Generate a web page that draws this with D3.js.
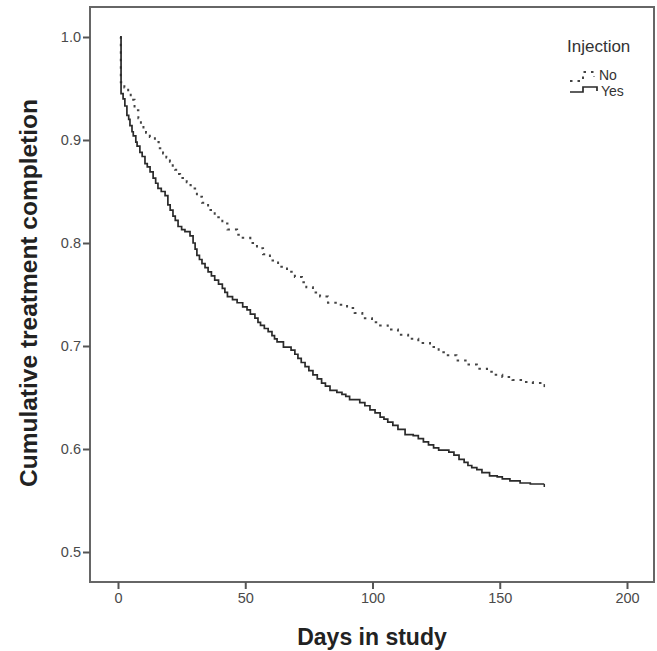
<!DOCTYPE html>
<html>
<head>
<meta charset="utf-8">
<script src="https://cdn.jsdelivr.net/npm/d3@7/dist/d3.min.js"></script>
<style>
  body { margin: 0; background: #fff; }
  svg { display: block; font-family: "Liberation Sans", Arial, sans-serif; }
</style>
</head>
<body>
<div id="chart"></div>
<script>
// tick values
const xTicks = [0, 50, 100, 150, 200];
const yTicks = [0.5, 0.6, 0.7, 0.8, 0.9, 1.0];

// Injection = No (dotted)
const noDays = [0.8, 1.1, 2.5, 4, 5, 6.5, 8, 9, 10, 11, 12.5, 14.5, 16, 17.7, 19, 20.4, 21.5, 22.4, 23.5, 24.4,
  27, 28.5, 29.5, 31, 33, 35.4, 38, 41, 43, 46.8, 49, 52, 54.6, 57, 59.7, 62.9, 66.4, 69.5, 72.3, 74,
  76.6, 79.4, 82.5, 86.4, 90, 93, 96, 99.8, 103, 106, 110, 114, 118, 122.6, 126, 129, 133, 137, 141, 145,
  148, 151, 155, 159, 163, 167.5];
const noSurv = [1.0, 0.956, 0.951, 0.947, 0.939, 0.929, 0.921, 0.915, 0.911, 0.907, 0.903, 0.898, 0.892, 0.887, 0.883, 0.879, 0.875, 0.871, 0.867, 0.863,
  0.859, 0.856, 0.853, 0.845, 0.839, 0.832, 0.825, 0.819, 0.813, 0.808, 0.805, 0.8, 0.795, 0.789, 0.783, 0.777, 0.772, 0.767, 0.762, 0.757,
  0.752, 0.748, 0.742, 0.74, 0.737, 0.732, 0.727, 0.723, 0.72, 0.716, 0.711, 0.707, 0.703, 0.699, 0.694, 0.691, 0.686, 0.682, 0.678, 0.675,
  0.672, 0.67, 0.667, 0.665, 0.664, 0.663];

// Injection = Yes (solid)
const yesDays = [0.8, 1.2, 2, 2.7, 3.5, 4.2, 4.7, 5.5, 6, 7, 7.5, 8.6, 9.5, 10.6, 11.5, 12.6, 13.8, 14.8, 15.7, 17,
  18.5, 19.6, 20.5, 21.6, 22.5, 23.6, 25, 26.3, 28.3, 29.5, 30.3, 31, 32, 33, 34.2, 35.4, 36.7, 38, 39.5, 41,
  42, 43, 45, 46.8, 49, 50.7, 52, 53.8, 55, 56, 57.5, 59, 60.5, 61.5, 62.5, 65, 68, 69.5, 70.7, 72,
  73.5, 75, 76.6, 78.3, 80, 81.5, 83.3, 86, 88, 89.5, 91, 95, 97, 99, 101, 103, 104.5, 106, 108, 110,
  112.8, 116, 118, 120, 122, 124, 126, 130, 132, 134, 136, 137.5, 139, 141, 143, 146, 149, 151, 154, 158,
  162, 167.5];
const yesSurv = [1.0, 0.945, 0.94, 0.933, 0.924, 0.92, 0.914, 0.908, 0.904, 0.898, 0.894, 0.888, 0.884, 0.877, 0.874, 0.869, 0.863, 0.858, 0.853, 0.85,
  0.846, 0.837, 0.832, 0.826, 0.822, 0.816, 0.813, 0.811, 0.807, 0.8, 0.794, 0.788, 0.784, 0.78, 0.776, 0.772, 0.768, 0.764, 0.76, 0.756,
  0.752, 0.748, 0.745, 0.742, 0.738, 0.735, 0.731, 0.727, 0.723, 0.72, 0.717, 0.714, 0.71, 0.707, 0.704, 0.699, 0.696, 0.692, 0.688, 0.684,
  0.68, 0.676, 0.672, 0.668, 0.664, 0.661, 0.657, 0.655, 0.653, 0.651, 0.648, 0.645, 0.642, 0.638, 0.635, 0.631, 0.629, 0.626, 0.623, 0.619,
  0.614, 0.613, 0.61, 0.607, 0.604, 0.601, 0.599, 0.597, 0.594, 0.59, 0.587, 0.584, 0.582, 0.58, 0.577, 0.574, 0.573, 0.571, 0.569, 0.567,
  0.566, 0.566];

const W = 657, H = 651;
const box = { left: 90, top: 7, right: 654, bottom: 582 };

const x = d3.scaleLinear().domain([0, 200]).range([118, 627]);
const y = d3.scaleLinear().domain([0.5, 1.0]).range([552, 37]);

const svg = d3.select("#chart").append("svg")
  .attr("width", W).attr("height", H);

// frame
svg.append("rect")
  .attr("x", box.left).attr("y", box.top)
  .attr("width", box.right - box.left).attr("height", box.bottom - box.top)
  .attr("fill", "none").attr("stroke", "#666").attr("stroke-width", 2);

// axes
const xAxis = svg.append("g")
  .attr("transform", `translate(0,${box.bottom})`)
  .call(d3.axisBottom(x).tickValues(xTicks).tickSize(7).tickPadding(4).tickFormat(d3.format("d")));
const yAxis = svg.append("g")
  .attr("transform", `translate(${box.left},0)`)
  .call(d3.axisLeft(y).tickValues(yTicks).tickSize(7).tickPadding(2).tickFormat(d3.format(".1f")));

[xAxis, yAxis].forEach((g) => {
  g.select(".domain").remove();
  g.selectAll(".tick line").attr("stroke", "#555").attr("stroke-width", 2);
  g.selectAll(".tick text")
    .attr("fill", "#4a4a4a")
    .style("font-size", "14.5px")
    .style("font-family", "'Liberation Sans', Arial, sans-serif");
});

// axis titles
svg.append("text")
  .attr("x", 372).attr("y", 645)
  .attr("text-anchor", "middle")
  .attr("fill", "#222")
  .style("font-size", "23px").style("font-weight", "bold")
  .text("Days in study");

svg.append("text")
  .attr("transform", `translate(37,293) rotate(-90)`)
  .attr("text-anchor", "middle")
  .attr("fill", "#222")
  .style("font-size", "24.5px").style("font-weight", "bold")
  .text("Cumulative treatment completion");

// curves
const line = d3.line()
  .x((d) => x(d[0]))
  .y((d) => y(d[1]))
  .curve(d3.curveStepAfter);

const noData = noDays.map((d, i) => [d, noSurv[i]]);
const yesData = yesDays.map((d, i) => [d, yesSurv[i]]);

svg.append("path")
  .datum(noData)
  .attr("fill", "none")
  .attr("stroke", "#444")
  .attr("stroke-width", 2)
  .attr("stroke-dasharray", "2.5,5")
  .attr("d", line);

svg.append("path")
  .datum(yesData)
  .attr("fill", "none")
  .attr("stroke", "#2a2a2a")
  .attr("stroke-width", 1.7)
  .attr("d", line);

// censor tick at the end of each curve
[[noData, "#444"], [yesData, "#2a2a2a"]].forEach(([data, c]) => {
  const last = data[data.length - 1];
  svg.append("line")
    .attr("x1", x(last[0])).attr("x2", x(last[0]))
    .attr("y1", y(last[1])).attr("y2", y(last[1]) + 3)
    .attr("stroke", c).attr("stroke-width", 1.5);
});

// legend
const legend = svg.append("g");
legend.append("text")
  .attr("x", 567).attr("y", 52)
  .attr("fill", "#333")
  .style("font-size", "17px")
  .text("Injection");

legend.append("path")
  .attr("d", "M570,81 H583 V72 H594 V77")
  .attr("fill", "none").attr("stroke", "#444").attr("stroke-width", 2)
  .attr("stroke-dasharray", "2.5,5");
legend.append("text")
  .attr("x", 599).attr("y", 80)
  .attr("fill", "#333").style("font-size", "14px")
  .text("No");

legend.append("path")
  .attr("d", "M570,92 H583 V87 H597 V91")
  .attr("fill", "none").attr("stroke", "#2a2a2a").attr("stroke-width", 1.7);
legend.append("text")
  .attr("x", 601).attr("y", 96)
  .attr("fill", "#333").style("font-size", "14px")
  .text("Yes");
</script>
</body>
</html>
